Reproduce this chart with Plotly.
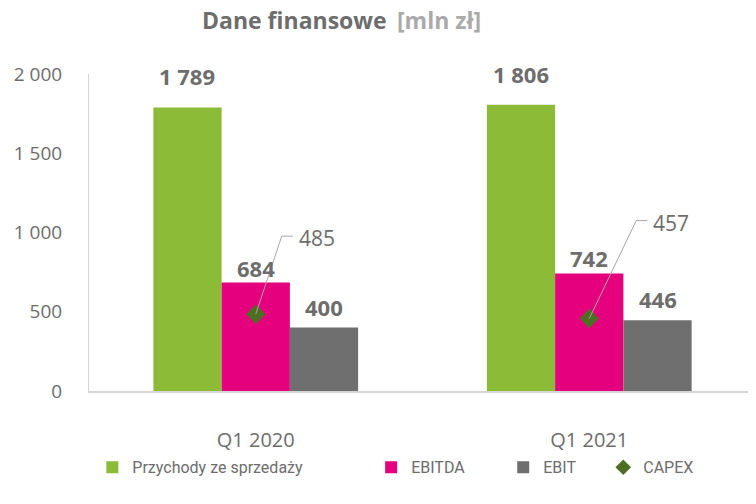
import plotly.graph_objects as go

categories = ["Q1 2020", "Q1 2021"]
przychody = [1789, 1806]
ebitda = [684, 742]
ebit = [400, 446]
capex = [485, 457]
y_ticks = [0, 500, 1000, 1500, 2000]
y_tick_labels = ["0", "500", "1 000", "1 500", "2 000"]

def fmt(v):
    return f"{v:,}".replace(",", " ")

FONT = "Open Sans"
LEG_FONT = "Roboto"
GREEN = "#8cbb38"
MAGENTA = "#e5007d"
GRAY = "#6f6f6f"
DIAMOND = "#4e6e24"
TXT = "#6d6d6d"

BARGAP = 0.386
bw = (1 - BARGAP) / 3
x = list(range(len(categories)))

series = [("Przychody ze sprzedaży", przychody, GREEN, 14, "legend"),
          ("EBITDA", ebitda, MAGENTA, -2, "legend2"),
          ("EBIT", ebit, GRAY, 4, "legend3")]

fig = go.Figure()
annotations = []
for k, (name, vals, col, lift, leg) in enumerate(series):
    fig.add_trace(go.Bar(
        x=x, y=vals, name=name, legend=leg,
        marker=dict(color=col, line=dict(width=0)),
    ))
    for xi, v in zip(x, vals):
        annotations.append(dict(
            x=xi + (k - 1) * bw, y=v, xref="x", yref="y",
            text=f"<b>{fmt(v)}</b>", showarrow=False,
            xanchor="center", yanchor="bottom", yshift=lift,
            font=dict(family=FONT, size=22, color=TXT)))

fig.add_trace(go.Scatter(
    x=x, y=capex, name="CAPEX", mode="markers", legend="legend4",
    marker=dict(symbol="diamond", size=15, color=DIAMOND),
))

# leader lines and labels for CAPEX
offsets = [(26, 78), (47, 98)]
for xi, v, (dx, dy) in zip(x, capex, offsets):
    fig.add_shape(type="path", xref="x", yref="y",
                  xsizemode="pixel", ysizemode="pixel",
                  xanchor=xi, yanchor=v,
                  path=f"M0,0 L{dx},{dy} L{dx+11},{dy}",
                  line=dict(color="#a6a6a6", width=1))
    annotations.append(dict(x=xi, y=v, xref="x", yref="y", text=fmt(v),
                            showarrow=False, xanchor="left", yanchor="middle",
                            xshift=dx + 15, yshift=dy - 2,
                            font=dict(family=FONT, size=21, color=TXT)))

# title (two parts)
annotations.append(dict(
    text="<b>Dane finansowe</b>", xref="paper", yref="paper",
    x=(389 - 89) / 667, y=1, yshift=54, xanchor="right", yanchor="middle",
    showarrow=False, font=dict(family=FONT, size=23, color=TXT)))
annotations.append(dict(
    text="<b>[mln zł]</b>", xref="paper", yref="paper",
    x=(395 - 89) / 667, y=1, yshift=54, xanchor="left", yanchor="middle",
    showarrow=False, font=dict(family=FONT, size=23, color="#aaaaaa")))

leg_common = dict(orientation="h", xanchor="left", y=-0.187, yanchor="top",
                  font=dict(family=LEG_FONT, size=16, color=TXT),
                  itemwidth=30, bgcolor="rgba(0,0,0,0)")

fig.update_layout(
    width=748, height=496,
    margin=dict(l=81, r=0, t=66, b=113, autoexpand=False),
    paper_bgcolor="white", plot_bgcolor="white",
    barmode="group", bargap=BARGAP, bargroupgap=0,
    font=dict(family=FONT, color=TXT),
    showlegend=True,
    legend=dict(x=0.005, **leg_common),
    legend2=dict(x=0.423, **leg_common),
    legend3=dict(x=0.621, **leg_common),
    legend4=dict(x=0.771, itemsizing="constant", **leg_common),
    annotations=annotations,
)

fig.update_xaxes(tickvals=x, ticktext=categories, range=[-0.5, 1.5],
                 showline=True, linecolor="#d4d4d4", linewidth=1.5,
                 showgrid=False, zeroline=False, ticks="", automargin=False,
                 ticklabelstandoff=30,
                 tickfont=dict(family=FONT, size=20, color=TXT))
fig.update_yaxes(range=[0, 2000], tickvals=y_ticks, ticktext=y_tick_labels,
                 showline=True, linecolor="#d4d4d4", linewidth=1,
                 showgrid=False, zeroline=False, ticks="", ticklabelstandoff=22,
                 automargin=False,
                 tickfont=dict(family=FONT, size=19, color=TXT))

fig.write_html("out.html")
